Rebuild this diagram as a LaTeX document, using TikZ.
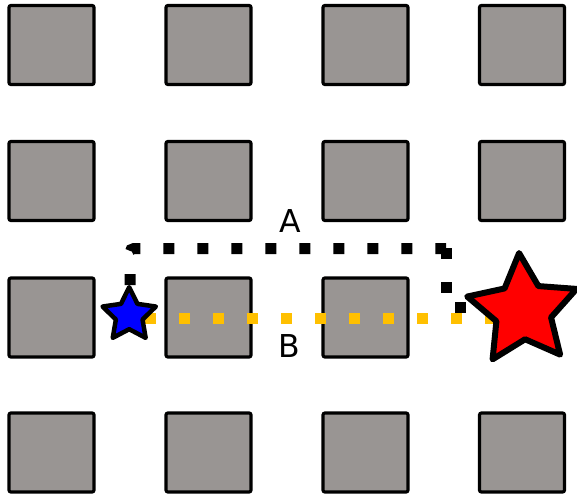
\documentclass[tikz,border=0pt]{standalone}
\usepackage{fontspec}
\setmainfont{DejaVu Sans}

\definecolor{cellgray}{RGB}{153,149,147}
\definecolor{routeyellow}{RGB}{255,192,0}

\tikzset{
  cell/.style={draw=black, line width=3.2pt, fill=cellgray, rounded corners=2pt,
    minimum width=85pt, minimum height=79pt, inner sep=0pt},
  goal/.style={draw=black, line join=round},
  route/.style={line width=11pt, dash pattern=on 11pt off 23pt, line cap=butt},
  tag/.style={font=\fontsize{31.5}{36}\selectfont, inner sep=0pt}
}

\begin{document}
\begin{tikzpicture}[x=1pt, y=-1pt]
  \useasboundingbox (0,0) rectangle (577,497);

  % 4 x 4 grid of obstacles; the goal cell (row 3, column 4) is free
  \foreach \r/\yy in {1/45, 2/181, 3/317.5, 4/452.5}{
    \foreach \c/\xx in {1/51.5, 2/208.5, 3/365.5, 4/522}{
      \ifnum\r\c=34\relax\else
        \node[cell] (s-\r-\c) at (\xx,\yy) {};
      \fi
    }
  }

  \coordinate (start) at (129.2,315.2);
  \coordinate (finish) at (523.1,310.5);

  % route B (straight)
  \coordinate (b0) at (145,318.5);
  \coordinate (b1) at (497,318.5);
  \draw[route, routeyellow] (b0) -- (b1);

  % route A (around the row of obstacles)
  \coordinate (a0) at (130,285);
  \coordinate (a1) at (130,248.5);
  \coordinate (a2) at (446,248.5);
  \coordinate (a3) at (446.5,248);
  \coordinate (a4) at (446.5,307.5);
  \coordinate (a5) at (466,307.5);
  \draw[route, black, rounded corners=4pt] (a0) -- (a1) -- (a2);
  \draw[route, black] (a3) -- (a4) -- (a5);

  % start and goal stars (angles run clockwise, since the y axis points down)
  \draw[goal, line width=4.5pt, fill=blue]
    ([shift={(-90:28)}]start)
    \foreach \k/\rr in {1/14, 2/28, 3/14, 4/28, 5/14, 6/28, 7/14, 8/28, 9/14}{
      -- ([shift={({-90+36*\k}:\rr)}]start)
    } -- cycle;
  \draw[goal, line width=6pt, fill=red]
    ([shift={(-94:57.6)}]finish)
    \foreach \k/\rr in {1/28.8, 2/57.6, 3/28.8, 4/57.6, 5/28.8, 6/57.6, 7/28.8, 8/57.6, 9/28.8}{
      -- ([shift={({-94+36*\k}:\rr)}]finish)
    } -- cycle;

  % labels
  \node[tag] (la) at (290,221.5) {A};
  \node[tag] (lb) at (289.5,346.5) {B};
\end{tikzpicture}
\end{document}
